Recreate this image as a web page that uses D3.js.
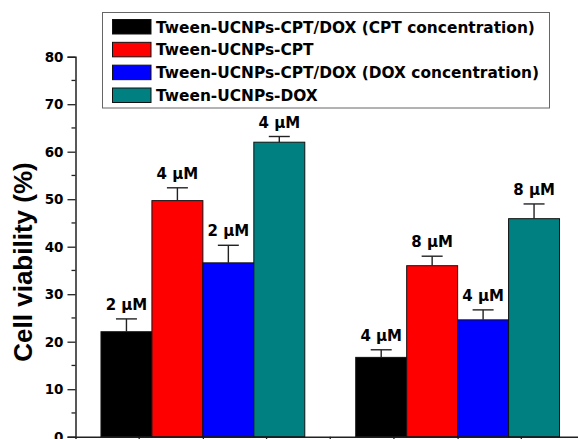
<!DOCTYPE html>
<html>
<head>
<meta charset="utf-8">
<script src="https://cdn.jsdelivr.net/npm/d3@7/dist/d3.min.js"></script>
<style>
  html, body { margin: 0; padding: 0; background: #fff; }
  svg { display: block; }
  .tick text { font-family: "DejaVu Sans", Verdana, sans-serif; font-weight: bold; }
</style>
</head>
<body>
<div id="chart"></div>
<script>
// Two treatment groups, four formulations each
const groups = [1, 2];
const seriesNames = [
  "Tween-UCNPs-CPT/DOX (CPT concentration)",
  "Tween-UCNPs-CPT",
  "Tween-UCNPs-CPT/DOX (DOX concentration)",
  "Tween-UCNPs-DOX"
];
const seriesColors = ["#000000", "#ff0000", "#0000ff", "#008080"];

// Cell viability (%) per series, one value per group
const viabilityCptDoxCpt = [22.1, 16.7];
const viabilityCpt       = [49.7, 36.0];
const viabilityCptDoxDox = [36.6, 24.6];
const viabilityDox       = [62.0, 45.9];

// Upper error (standard deviation)
const errorCptDoxCpt = [2.7, 1.6];
const errorCpt       = [2.7, 2.0];
const errorCptDoxDox = [3.7, 2.1];
const errorDox       = [1.2, 3.1];

// Drug concentration labels
const concCptDoxCpt = ["2 \u03BCM", "4 \u03BCM"];
const concCpt       = ["4 \u03BCM", "8 \u03BCM"];
const concCptDoxDox = ["2 \u03BCM", "4 \u03BCM"];
const concDox       = ["4 \u03BCM", "8 \u03BCM"];

const yTicks = [0, 10, 20, 30, 40, 50, 60, 70, 80];

const valueSets = [viabilityCptDoxCpt, viabilityCpt, viabilityCptDoxDox, viabilityDox];
const errorSets = [errorCptDoxCpt, errorCpt, errorCptDoxDox, errorDox];
const labelSets = [concCptDoxCpt, concCpt, concCptDoxDox, concDox];

const bars = [];
groups.forEach((g, gi) => {
  seriesNames.forEach((s, si) => {
    bars.push({ group: g, series: s, si,
      value: valueSets[si][gi], err: errorSets[si][gi], label: labelSets[si][gi] });
  });
});

const W = 578, H = 439;
const svg = d3.select("#chart").append("svg").attr("width", W).attr("height", H);

const x = d3.scaleLinear().domain([0.5, 2.5]).range([75.5, 585]);
const y = d3.scaleLinear().domain([0, 80]).range([436.7, 56.7]);
// position of each series inside a group, in x-axis units
const inner = d3.scaleBand().domain(seriesNames).range([-0.4, 0.4]);

// Axes
const yAxis = d3.axisLeft(y).tickValues(yTicks).tickSize(8).tickPadding(4);
const gy = svg.append("g").attr("transform", `translate(${x(0.5)},0)`).call(yAxis);
gy.select(".domain").attr("stroke", "#222").attr("stroke-width", 1.5);
gy.selectAll(".tick line").attr("stroke", "#222").attr("stroke-width", 1.3);
gy.selectAll(".tick text").attr("font-size", 13.5).attr("fill", "#000");
// minor y ticks
const yMinor = d3.range(5, 80, 10);
svg.append("g").selectAll("line").data(yMinor).join("line")
  .attr("x1", x(0.5) - 4).attr("x2", x(0.5))
  .attr("y1", d => y(d)).attr("y2", d => y(d))
  .attr("stroke", "#222").attr("stroke-width", 1.3);

const xAxis = d3.axisBottom(x).tickValues(groups).tickSize(8).tickFormat(() => "");
const gx = svg.append("g").attr("transform", `translate(0,${y(0)})`).call(xAxis);
gx.select(".domain").attr("stroke", "#222").attr("stroke-width", 1.5);
gx.selectAll(".tick line").attr("stroke", "#222").attr("stroke-width", 1.3);
const xMinor = [0.75, 1.25, 1.5, 1.75, 2.25];
svg.append("g").selectAll("line").data(xMinor).join("line")
  .attr("x1", d => x(d)).attr("x2", d => x(d))
  .attr("y1", y(0)).attr("y2", y(0) + 4)
  .attr("stroke", "#222").attr("stroke-width", 1.3);

// Bars
const bw = x(inner.bandwidth()) - x(0);
const bx = d => x(d.group + inner(d.series));
svg.append("g").selectAll("rect").data(bars).join("rect")
  .attr("x", bx)
  .attr("y", d => y(d.value))
  .attr("width", bw)
  .attr("height", d => y(0) - y(d.value))
  .attr("fill", d => seriesColors[d.si])
  .attr("stroke", "#111").attr("stroke-width", 1);

// Upper error bars
const eb = svg.append("g").attr("stroke", "#222").attr("stroke-width", 1.4);
eb.selectAll("line.v").data(bars).join("line").attr("class", "v")
  .attr("x1", d => bx(d) + bw / 2).attr("x2", d => bx(d) + bw / 2)
  .attr("y1", d => y(d.value)).attr("y2", d => y(d.value + d.err));
eb.selectAll("line.c").data(bars).join("line").attr("class", "c")
  .attr("x1", d => bx(d) + bw / 2 - 10.5).attr("x2", d => bx(d) + bw / 2 + 10.5)
  .attr("y1", d => y(d.value + d.err)).attr("y2", d => y(d.value + d.err));

// Concentration labels
svg.append("g").selectAll("text").data(bars).join("text")
  .attr("x", d => bx(d) + bw / 2)
  .attr("y", d => y(d.value + d.err) - 9)
  .attr("text-anchor", "middle")
  .attr("font-family", "'DejaVu Sans', Verdana, sans-serif")
  .attr("font-weight", "bold").attr("font-size", 15)
  .text(d => d.label);

// Y axis title
svg.append("text")
  .attr("transform", `translate(32,${262}) rotate(-90)`)
  .attr("text-anchor", "middle")
  .attr("font-family", "'Liberation Sans', Arial, sans-serif")
  .attr("font-weight", "bold").attr("font-size", 26)
  .text("Cell viability (%)");

// Legend
const lg = svg.append("g");
lg.append("rect").attr("x", 102.5).attr("y", 12.5).attr("width", 447).attr("height", 95.5)
  .attr("fill", "#fff").attr("stroke", "#666").attr("stroke-width", 1);
const rowY = d3.scaleLinear().domain([0, 3]).range([19, 87.5]);
const items = lg.selectAll("g.item").data(seriesNames).join("g").attr("class", "item")
  .attr("transform", (d, i) => `translate(112,${rowY(i)})`);
items.append("rect").attr("x", 0.5).attr("y", 0.5).attr("width", 38.5).attr("height", 14.5)
  .attr("fill", (d, i) => seriesColors[i]).attr("stroke", "#111").attr("stroke-width", 1);
items.append("text").attr("x", 44).attr("y", 13.5)
  .attr("font-family", "'DejaVu Sans', Verdana, sans-serif")
  .attr("font-weight", "bold").attr("font-size", 15.4)
  .text(d => d);
</script>
</body>
</html>
